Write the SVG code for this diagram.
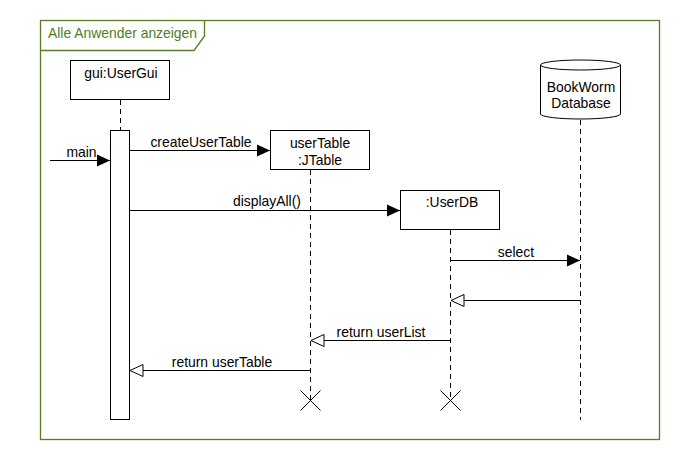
<svg xmlns="http://www.w3.org/2000/svg" width="680" height="460" viewBox="0 0 680 460">
<defs>
<style>
text{font-family:"Liberation Sans",Arial,sans-serif;font-size:13.9px;fill:#000}
.box{fill:#fff;stroke:#000;stroke-width:1}
.life{stroke:#000;stroke-width:1;stroke-dasharray:5,4;fill:none}
.msg{stroke:#000;stroke-width:1;fill:none}
.frame{fill:#fff;stroke:#5b7a26;stroke-width:1.3}
.ftext{fill:#4e7d1e}
.c{text-anchor:middle}
</style>
<marker id="filled" markerUnits="userSpaceOnUse" markerWidth="16" markerHeight="16" viewBox="0 0 16 16" refX="14" refY="8" orient="auto" overflow="visible">
<path d="M1,2 L14,8 L1,14 Z" fill="#000"/>
</marker>
<marker id="open" markerUnits="userSpaceOnUse" markerWidth="16" markerHeight="16" viewBox="0 0 16 16" refX="14" refY="8" orient="auto" overflow="visible">
<path d="M1,2 L14,8 L1,14 Z" fill="#fff" stroke="#000" stroke-width="1"/>
</marker>
</defs>
<rect width="680" height="460" fill="#fff"/>
<g id="frame">
<rect class="frame" x="40.5" y="20.5" width="619" height="419"/>
<path d="M40.5,50.5 L194,50.5 L204.5,36 L204.5,20.5" fill="none" stroke="#5b7a26" stroke-width="1.3"/>
<text class="ftext" x="48" y="37.5">Alle Anwender anzeigen</text>
</g>
<g id="lifelines">
<line class="life" x1="120.5" y1="100" x2="120.5" y2="131"/>
<line class="life" x1="310.5" y1="170" x2="310.5" y2="400"/>
<line class="life" x1="450.5" y1="230" x2="450.5" y2="400"/>
<line class="life" x1="580.5" y1="120" x2="580.5" y2="420"/>
</g>
<g id="gui">
<rect class="box" x="70.5" y="60.5" width="99" height="39"/>
<text class="c" x="121" y="78">gui:UserGui</text>
</g>
<g id="activation">
<rect class="box" x="110.5" y="130.5" width="19" height="289"/>
</g>
<g id="userTable">
<rect class="box" x="270.5" y="130.5" width="99" height="39"/>
<text class="c" x="320" y="147.5">userTable</text>
<text class="c" x="320" y="164.5">:JTable</text>
</g>
<g id="userDB">
<rect class="box" x="400.5" y="190.5" width="99" height="39"/>
<text class="c" x="452" y="207">:UserDB</text>
</g>
<g id="database">
<path d="M540.5,65 A40,5 0 0,1 620.5,65 L620.5,114 A40,5 0 0,1 540.5,114 Z" fill="#fff" stroke="#000" stroke-width="1"/>
<path d="M540.5,65 A40,5 0 0,0 620.5,65" fill="none" stroke="#000" stroke-width="1"/>
<text class="c" x="581" y="92">BookWorm</text>
<text class="c" x="581" y="108">Database</text>
</g>
<g id="connectors">
<line class="msg" x1="50" y1="160.5" x2="110" y2="160.5" marker-end="url(#filled)"/>
<text class="c" x="81.5" y="157">main</text>
<line class="msg" x1="130" y1="150.5" x2="270" y2="150.5" marker-end="url(#filled)"/>
<text class="c" x="201" y="147">createUserTable</text>
<line class="msg" x1="130" y1="210.5" x2="400" y2="210.5" marker-end="url(#filled)"/>
<text class="c" x="267" y="206">displayAll()</text>
<line class="msg" x1="450.5" y1="260.5" x2="580" y2="260.5" marker-end="url(#filled)"/>
<text class="c" x="516" y="257">select</text>
<line class="msg" x1="580.5" y1="300.5" x2="451" y2="300.5" marker-end="url(#open)"/>
<line class="msg" x1="450.5" y1="340.5" x2="311" y2="340.5" marker-end="url(#open)"/>
<text class="c" x="381" y="337">return userList</text>
<line class="msg" x1="310.5" y1="370.5" x2="130" y2="370.5" marker-end="url(#open)"/>
<text class="c" x="222" y="367">return userTable</text>
</g>
<g id="destroy">
<path d="M300.5,390.5 L320.5,410.5 M320.5,390.5 L300.5,410.5" stroke="#000" stroke-width="1" fill="none"/>
<path d="M440.5,390.5 L460.5,410.5 M460.5,390.5 L440.5,410.5" stroke="#000" stroke-width="1" fill="none"/>
</g>
</svg>
